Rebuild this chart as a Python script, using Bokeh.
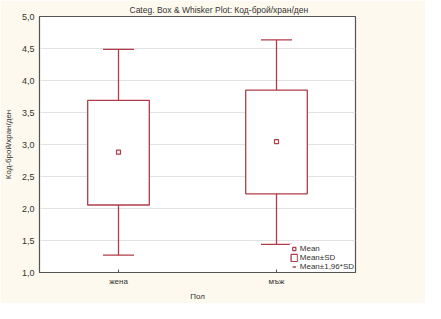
from bokeh.plotting import figure
from bokeh.models import (FactorRange, Range1d, Whisker, TeeHead, ColumnDataSource,
                          Legend, LegendItem, FixedTicker)
from bokeh.embed import file_html
from bokeh.resources import INLINE

categories = ["жена", "мъж"]
means = [2.88, 3.045]
sd_low = [2.055, 2.23]
sd_high = [3.69, 3.85]
ci_low = [1.27, 1.44]
ci_high = [4.485, 4.635]
y_ticks = [1.0, 1.5, 2.0, 2.5, 3.0, 3.5, 4.0, 4.5, 5.0]
y_tick_labels = ["1,0", "1,5", "2,0", "2,5", "3,0", "3,5", "4,0", "4,5", "5,0"]
legend_labels = ["Mean", "Mean±SD", "Mean±1,96*SD"]

RED = "#B03C48"
FONT = "Liberation Sans"
TXT = "#333333"
CREAM = "#FEF9EE"

src = ColumnDataSource(dict(cat=categories, mean=means, lo=sd_low, hi=sd_high,
                            clo=ci_low, chi=ci_high))

p = figure(width=425, height=303, x_range=FactorRange(*categories), y_range=Range1d(1, 5),
           output_backend="svg", toolbar_location=None,
           min_border_left=34, min_border_right=70, min_border_top=14, min_border_bottom=27,
           background_fill_color="white", border_fill_color=CREAM,
           outline_line_color="#555555", outline_line_width=1.2)

p.title.text = "Categ. Box & Whisker Plot: Код-брой/хран/ден"
p.title.text_font = FONT
p.title.text_font_size = "8.5px"
p.title.text_font_style = "normal"
p.title.text_color = TXT
p.title.align = "left"
p.title.offset = 90
p.title.standoff = 4

w = Whisker(source=src, base="cat", lower="clo", upper="chi", line_color=RED, line_width=1.3,
            level="underlay",
            lower_head=TeeHead(size=31, line_color=RED, line_width=1.3),
            upper_head=TeeHead(size=31, line_color=RED, line_width=1.3))
p.add_layout(w)

r_box = p.vbar(x="cat", bottom="lo", top="hi", width=0.39, source=src,
               fill_color="white", line_color=RED, line_width=1.3)
r_mean = p.scatter(x="cat", y="mean", source=src, marker="square", size=4,
                   fill_color="white", line_color=RED, line_width=1.2)
# zero-size stand-in that only provides the whisker's legend symbol
r_wh = p.scatter(x="cat", y="mean", source=src, marker="dash", size=0,
                 line_color=RED, line_width=1.3)

p.xgrid.grid_line_color = None
p.ygrid.grid_line_color = "#E2E2E2"
p.ygrid.grid_line_width = 1.2
p.yaxis.ticker = FixedTicker(ticks=y_ticks)
p.ygrid.ticker = FixedTicker(ticks=y_ticks)
p.yaxis.major_label_overrides = {t: s for t, s in zip(y_ticks, y_tick_labels)}

for ax in (p.xaxis[0], p.yaxis[0]):
    ax.axis_line_color = "#555555"
    ax.major_tick_out = 0
    ax.minor_tick_out = 0
    ax.minor_tick_in = 0
    ax.major_label_text_font = FONT
    ax.major_label_text_color = TXT
    ax.axis_label_text_font = FONT
    ax.axis_label_text_font_size = "8px"
    ax.axis_label_text_font_style = "normal"
    ax.axis_label_text_color = TXT
p.yaxis.major_label_text_font_size = "9px"
p.xaxis.major_label_text_font_size = "8px"
p.xaxis.major_tick_in = 3
p.xaxis.major_tick_line_color = "#555555"
p.yaxis.major_tick_in = 0
p.yaxis.major_label_standoff = 5
p.xaxis.major_label_standoff = 4
p.yaxis.axis_label = "Код-брой/хран/ден"
p.xaxis.axis_label = "Пол"
p.yaxis.axis_label_standoff = 6
p.xaxis.axis_label_standoff = 3

legend = Legend(items=[LegendItem(label=legend_labels[0], renderers=[r_mean], index=0),
                       LegendItem(label=legend_labels[1], renderers=[r_box], index=0),
                       LegendItem(label=legend_labels[2], renderers=[r_wh], index=0)],
                location="bottom_right", glyph_width=8, glyph_height=9, label_height=9,
                label_width=10, spacing=0, padding=1, margin=1, label_standoff=2,
                label_text_font=FONT, label_text_font_size="8px", label_text_color=TXT,
                border_line_color=None, background_fill_color="white", background_fill_alpha=1)
p.add_layout(legend)

open("out.html", "w").write(file_html(p, INLINE))
